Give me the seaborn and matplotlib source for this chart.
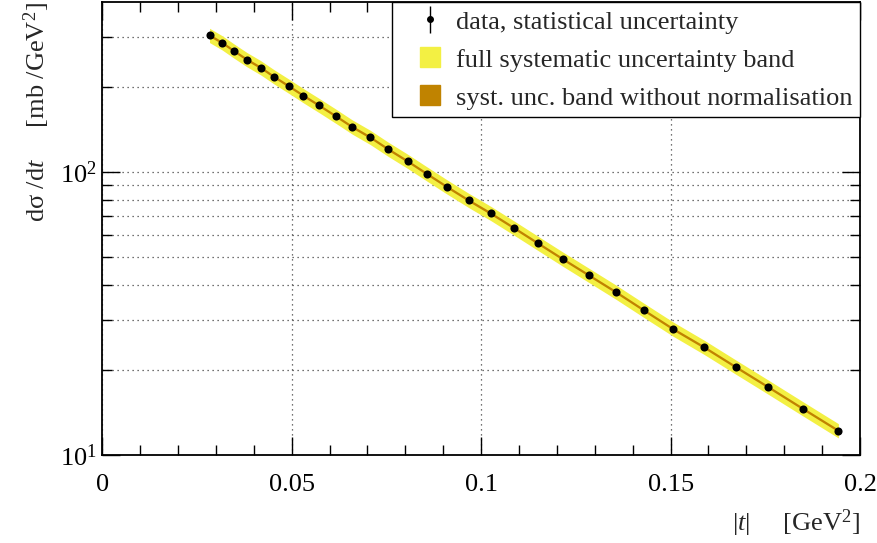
import numpy as np
import pandas as pd
import seaborn as sns
import matplotlib.pyplot as plt
from matplotlib.ticker import FixedLocator, MultipleLocator, NullFormatter
from matplotlib.lines import Line2D

# |t| values [GeV^2] and dsigma/dt [mb/GeV^2]
t_abs = [0.0283, 0.0316, 0.0348, 0.0382, 0.0418, 0.0453, 0.0492, 0.0531, 0.0573, 0.0616,
         0.0660, 0.0707, 0.0755, 0.0806, 0.0856, 0.0910, 0.0967, 0.1026, 0.1088, 0.1151,
         0.1217, 0.1285, 0.1356, 0.1430, 0.1507, 0.1588, 0.1672, 0.1758, 0.1849, 0.1943]
dsig_dt = [304.9, 287.3, 268.3, 250.2, 234.4, 217.8, 201.8, 186.6, 172.1, 158.1,
           144.6, 133.0, 120.6, 109.4, 98.9, 88.8, 79.6, 71.5, 63.4, 56.0,
           49.2, 43.2, 37.7, 32.5, 27.9, 24.1, 20.5, 17.4, 14.6, 12.2]
stat_rel = 0.004        # statistical uncertainty (relative)
syst_full_rel = 0.058   # full systematic band (relative)
syst_nonorm_rel = 0.011 # systematic band without normalisation (relative)

df = pd.DataFrame({"t": t_abs, "dsdt": dsig_dt})
df["full_lo"] = df["dsdt"] * (1 - syst_full_rel)
df["full_hi"] = df["dsdt"] * (1 + syst_full_rel)
df["nn_lo"] = df["dsdt"] * (1 - syst_nonorm_rel)
df["nn_hi"] = df["dsdt"] * (1 + syst_nonorm_rel)

yellow = "#f3f043"
brown = "#c08300"
fs = 19

sns.set_theme(style="ticks")
plt.rcParams["font.family"] = ["Liberation Serif", "DejaVu Serif"]
plt.rcParams["mathtext.fontset"] = "custom"
plt.rcParams["mathtext.rm"] = "Liberation Serif"
plt.rcParams["mathtext.it"] = "Liberation Serif:italic"

fig = plt.figure(figsize=(8.78, 5.43), dpi=100)
ax = fig.add_axes([0.1165, 0.162, 0.863, 0.834])

ax.fill_between(df["t"], df["full_lo"], df["full_hi"], color=yellow, lw=0, zorder=2)
ax.fill_between(df["t"], df["nn_lo"], df["nn_hi"], color=brown, lw=0, zorder=3)
ax.errorbar(df["t"], df["dsdt"], yerr=df["dsdt"] * stat_rel, fmt="none", ecolor="black",
            elinewidth=1, zorder=4)
sns.scatterplot(data=df, x="t", y="dsdt", color="black", s=34, edgecolor="black",
                linewidth=0, zorder=5, ax=ax, legend=False)

ax.set_yscale("log")
ax.set_xlim(0, 0.2)
ax.set_ylim(10, 399)

ax.set_xticks([0, 0.05, 0.1, 0.15, 0.2])
ax.set_xticklabels(["0", "0.05", "0.1", "0.15", "0.2"])
ax.xaxis.set_minor_locator(MultipleLocator(0.01))

ax.yaxis.set_major_locator(FixedLocator([10, 100]))
ax.set_yticklabels([r"$10^1$", r"$10^2$"])
ax.yaxis.set_minor_locator(FixedLocator([20, 30, 40, 50, 60, 70, 80, 90, 200, 300]))
ax.yaxis.set_minor_formatter(NullFormatter())

ax.tick_params(which="both", direction="in", top=True, right=True, colors="black",
               labelsize=fs, width=1)
ax.tick_params(which="major", length=13, pad=14)
ax.tick_params(axis="y", which="major", pad=4)
ax.tick_params(which="minor", length=7)

ax.grid(True, which="major", axis="x", linestyle=(0, (1, 3)), color="#444444", lw=0.9)
ax.grid(True, which="both", axis="y", linestyle=(0, (1, 3)), color="#444444", lw=0.9)
for sp in ax.spines.values():
    sp.set_color("black")
    sp.set_linewidth(1.3)

ax.set_xlabel(r"$|t|$     [GeV$^2$]", fontsize=fs, loc="right", labelpad=8)
ax.set_ylabel("dσ /d$t$     [mb /GeV$^2$]", fontsize=fs, loc="top", labelpad=6)

stat_handle = ax.errorbar([], [], yerr=[], fmt="o", color="black", markersize=4, elinewidth=1)
handles = [stat_handle,
           Line2D([], [], linestyle="none", marker="s", markersize=14,
                  markerfacecolor=yellow, markeredgecolor=yellow),
           Line2D([], [], linestyle="none", marker="s", markersize=14,
                  markerfacecolor=brown, markeredgecolor=brown)]
labels = ["data, statistical uncertainty", "full systematic uncertainty band",
          "syst. unc. band without normalisation"]
leg = ax.legend(handles, labels, loc="upper right", fontsize=fs, frameon=True,
                fancybox=False, edgecolor="black", framealpha=1, borderaxespad=0,
                handlelength=2.35, handleheight=0.85, labelspacing=0.5, borderpad=0.28,
                handletextpad=-0.19)
leg.get_frame().set_linewidth(1.0)

fig.savefig("out.png", dpi=100)
